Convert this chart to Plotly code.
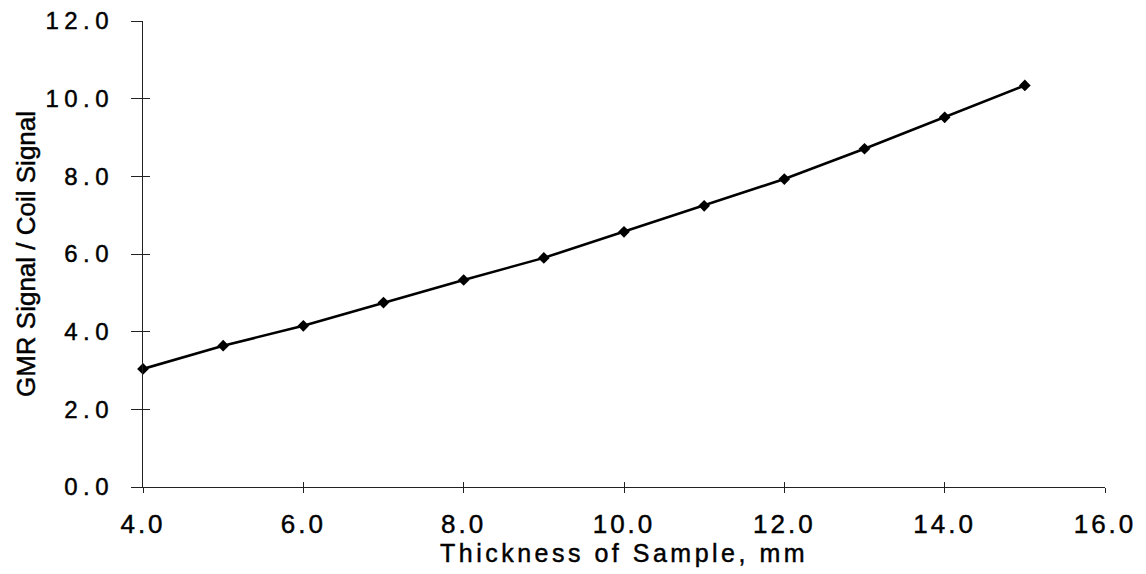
import plotly.graph_objects as go

# Sample thickness (mm) and measured GMR/coil signal ratio
thickness_mm = [4, 5, 6, 7, 8, 9, 10, 11, 12, 13, 14, 15]
signal_ratio = [3.04, 3.64, 4.15, 4.75, 5.33, 5.90, 6.57, 7.24, 7.93, 8.71, 9.52, 10.34]

x_ticks = [4, 6, 8, 10, 12, 14, 16]
x_tick_text = ["4.0", "6.0", "8.0", "10.0", "12.0", "14.0", "16.0"]
y_ticks = [0, 2, 4, 6, 8, 10, 12]
y_tick_text = ["0.0", "2.0", "4.0", "6.0", "8.0", "10.0", "12.0"]

X_RANGE = [4, 16]
Y_RANGE = [0, 12]
AXIS_COLOR = "#222222"
FONT = "Liberation Sans, Arial, sans-serif"

fig = go.Figure()

fig.add_trace(go.Scatter(
    x=thickness_mm,
    y=signal_ratio,
    mode="lines+markers",
    line=dict(color="black", width=2.6),
    marker=dict(symbol="diamond", size=9, color="black"),
    showlegend=False,
    cliponaxis=False,
))

# empty trace that creates the overlay axes carrying the inner half of the ticks
fig.add_trace(go.Scatter(x=[], y=[], xaxis="x2", yaxis="y2", showlegend=False))

fig.update_layout(
    width=1146,
    height=574,
    margin=dict(l=143, r=41, t=21, b=87),
    paper_bgcolor="white",
    plot_bgcolor="white",
    xaxis=dict(
        range=X_RANGE,
        tickmode="array",
        tickvals=x_ticks,
        ticktext=x_tick_text,
        ticks="outside",
        ticklen=5,
        tickwidth=1.2,
        tickcolor=AXIS_COLOR,
        showline=True,
        linecolor=AXIS_COLOR,
        linewidth=1.2,
        showgrid=False,
        zeroline=False,
        tickfont=dict(family=FONT, size=26, color="black"),
        ticklabelstandoff=9,
        title=dict(
            text="Thickness of Sample, mm",
            font=dict(family=FONT, size=25, color="black"),
            standoff=4,
        ),
        automargin=False,
    ),
    yaxis=dict(
        range=Y_RANGE,
        tickmode="array",
        tickvals=y_ticks,
        ticktext=y_tick_text,
        ticks="outside",
        ticklen=11,
        tickwidth=1.2,
        tickcolor=AXIS_COLOR,
        showline=True,
        linecolor=AXIS_COLOR,
        linewidth=1.2,
        showgrid=False,
        zeroline=False,
        tickfont=dict(family=FONT, size=24, color="black"),
        ticklabelstandoff=12,
        title=dict(
            text="GMR Signal / Coil Signal",
            font=dict(family=FONT, size=26, color="black"),
            standoff=24,
        ),
        automargin=False,
    ),
    xaxis2=dict(
        overlaying="x",
        anchor="y2",
        range=X_RANGE,
        tickmode="array",
        tickvals=x_ticks,
        ticks="inside",
        ticklen=5,
        tickwidth=1.2,
        tickcolor=AXIS_COLOR,
        showticklabels=False,
        showline=False,
        showgrid=False,
        zeroline=False,
    ),
    yaxis2=dict(
        overlaying="y",
        anchor="x2",
        range=Y_RANGE,
        tickmode="array",
        tickvals=y_ticks,
        ticks="inside",
        ticklen=7,
        tickwidth=1.2,
        tickcolor=AXIS_COLOR,
        showticklabels=False,
        showline=False,
        showgrid=False,
        zeroline=False,
    ),
)

# wider letter spacing and slightly heavier strokes for the axis text
spacing_css = (
    "var s=document.createElement('style');"
    "s.textContent='g.ytick text{letter-spacing:5.5px} g.xtick text{letter-spacing:3px} "
    "text.xtitle{letter-spacing:3.5px} "
    "g.ytick text, g.xtick text, text.xtitle, text.ytitle{stroke:#000;stroke-width:0.45px}';"
    "document.head.appendChild(s);"
)

fig.write_html("out.html", post_script=spacing_css)
